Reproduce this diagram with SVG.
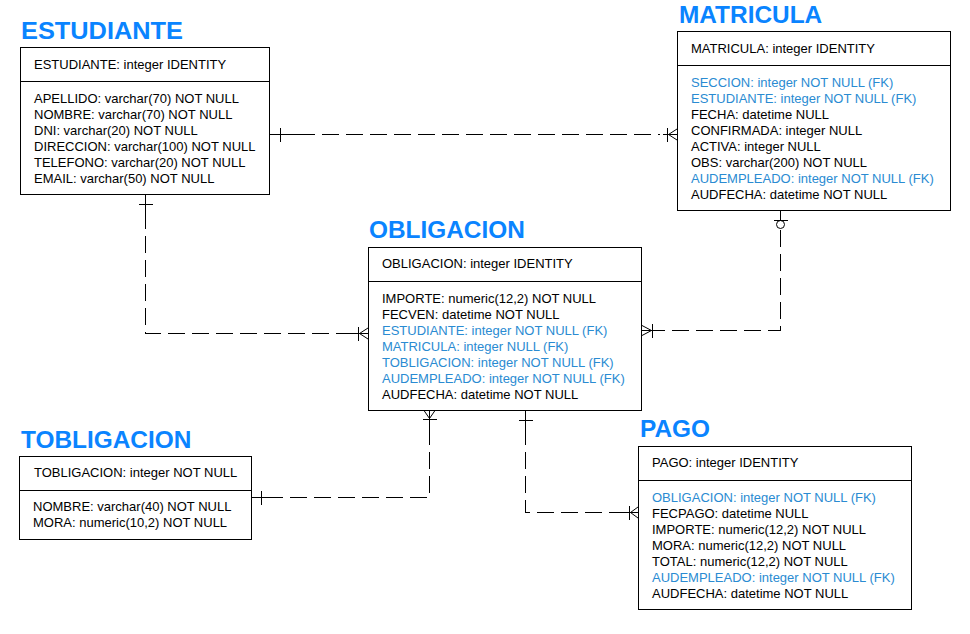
<svg xmlns="http://www.w3.org/2000/svg" width="970" height="634" viewBox="0 0 970 634">
<style>
  .box { fill: #ffffff; stroke: #000000; stroke-width: 1; shape-rendering: crispEdges; }
  .div { stroke: #000000; stroke-width: 1; shape-rendering: crispEdges; }
  .title { font-family: 'Liberation Sans', Arial, sans-serif; font-size: 24.4px; font-weight: bold; fill: #0a84ff; }
  .t { font-family: 'Liberation Sans', Arial, sans-serif; font-size: 13px; fill: #000000; }
  .fk { fill: #2a8bd2; }
  .dash { fill: none; stroke: #000000; stroke-width: 1; stroke-dasharray: 17 7; shape-rendering: crispEdges; }
  .solid { fill: none; stroke: #000000; stroke-width: 1; }
</style>
<rect width="970" height="634" fill="#ffffff"/>

<g id="connectors">
  <!-- ESTUDIANTE - MATRICULA -->
  <g id="c-est-mat">
    <path class="dash" d="M298,134.5 H660"/>
    <path class="solid" d="M269.5,134.5 H298 M663,134.5 H677.5" shape-rendering="crispEdges"/>
    <path class="solid" d="M280.5,127.5 V141.5 M667.5,127.5 V141.5" shape-rendering="crispEdges"/>
    <path class="solid" d="M677,129 L668.5,134.5 L677,140"/>
  </g>
  <!-- ESTUDIANTE - OBLIGACION -->
  <g id="c-est-obl">
    <path class="dash" d="M145.5,212 V333.5 H352"/>
    <path class="solid" d="M145.5,194.5 V212 M352,333.5 H368.5" shape-rendering="crispEdges"/>
    <path class="solid" d="M138.5,204.5 H152.5 M358.5,326.5 V340.5" shape-rendering="crispEdges"/>
    <path class="solid" d="M368,328 L359.5,333.5 L368,339"/>
  </g>
  <!-- MATRICULA - OBLIGACION -->
  <g id="c-mat-obl">
    <path class="dash" d="M780.5,230 V330.5 H657"/>
    <path class="solid" d="M780.5,210.5 V220.5 M657,330.5 H641.5" shape-rendering="crispEdges"/>
    <path class="solid" d="M773.5,220.5 H787.5 M652.5,323.5 V337.5" shape-rendering="crispEdges"/>
    <circle class="solid" cx="780.5" cy="224.5" r="4"/>
    <path class="solid" d="M642,325.5 L651.5,330.5 L642,335.5"/>
  </g>
  <!-- OBLIGACION - TOBLIGACION -->
  <g id="c-obl-tob">
    <path class="dash" d="M429.5,428 V497.5 H270"/>
    <path class="solid" d="M429.5,410.5 V428 M270,497.5 H251.5" shape-rendering="crispEdges"/>
    <path class="solid" d="M422.5,419.5 H436.5 M261.5,490.5 V504.5" shape-rendering="crispEdges"/>
    <path class="solid" d="M424,410.5 L429.5,418.5 L435,410.5"/>
  </g>
  <!-- OBLIGACION - PAGO -->
  <g id="c-obl-pago">
    <path class="dash" d="M525.5,428 V512.5 H622"/>
    <path class="solid" d="M525.5,410.5 V428 M622,512.5 H638.5" shape-rendering="crispEdges"/>
    <path class="solid" d="M518.5,420.5 H532.5 M629.5,505.5 V519.5" shape-rendering="crispEdges"/>
    <path class="solid" d="M638,507 L630.5,512.5 L638,518"/>
  </g>
</g>

<g id="ESTUDIANTE">
  <text class="title" x="21" y="39" textLength="162" lengthAdjust="spacingAndGlyphs">ESTUDIANTE</text>
  <rect class="box" x="20.5" y="47.5" width="249" height="147"/>
  <line class="div" x1="20.5" y1="81.5" x2="269.5" y2="81.5"/>
  <text class="t" x="34" y="69">ESTUDIANTE: integer IDENTITY</text>
  <text class="t" x="34" y="103.3">APELLIDO: varchar(70) NOT NULL</text>
  <text class="t" x="34" y="119.3">NOMBRE: varchar(70) NOT NULL</text>
  <text class="t" x="34" y="135.3">DNI: varchar(20) NOT NULL</text>
  <text class="t" x="34" y="151.3">DIRECCION: varchar(100) NOT NULL</text>
  <text class="t" x="34" y="167.3">TELEFONO: varchar(20) NOT NULL</text>
  <text class="t" x="34" y="183.3">EMAIL: varchar(50) NOT NULL</text>
</g>

<g id="MATRICULA">
  <text class="title" x="679" y="22.7">MATRICULA</text>
  <rect class="box" x="677.5" y="31.5" width="273" height="179"/>
  <line class="div" x1="677.5" y1="65.5" x2="950.5" y2="65.5"/>
  <text class="t" x="691" y="53.3">MATRICULA: integer IDENTITY</text>
  <text class="t fk" x="691" y="87.3">SECCION: integer NOT NULL (FK)</text>
  <text class="t fk" x="691" y="103.3">ESTUDIANTE: integer NOT NULL (FK)</text>
  <text class="t" x="691" y="119.3">FECHA: datetime NULL</text>
  <text class="t" x="691" y="135.3">CONFIRMADA: integer NULL</text>
  <text class="t" x="691" y="151.3">ACTIVA: integer NULL</text>
  <text class="t" x="691" y="167.3">OBS: varchar(200) NOT NULL</text>
  <text class="t fk" x="691" y="183.3">AUDEMPLEADO: integer NOT NULL (FK)</text>
  <text class="t" x="691" y="199.3">AUDFECHA: datetime NOT NULL</text>
</g>

<g id="OBLIGACION">
  <text class="title" x="369" y="238.3">OBLIGACION</text>
  <rect class="box" x="368.5" y="247.5" width="273" height="163"/>
  <line class="div" x1="368.5" y1="281.5" x2="641.5" y2="281.5"/>
  <text class="t" x="382" y="268.3">OBLIGACION: integer IDENTITY</text>
  <text class="t" x="382" y="302.7">IMPORTE: numeric(12,2) NOT NULL</text>
  <text class="t" x="382" y="318.7">FECVEN: datetime NOT NULL</text>
  <text class="t fk" x="382" y="334.7">ESTUDIANTE: integer NOT NULL (FK)</text>
  <text class="t fk" x="382" y="350.7">MATRICULA: integer NULL (FK)</text>
  <text class="t fk" x="382" y="366.7">TOBLIGACION: integer NOT NULL (FK)</text>
  <text class="t fk" x="382" y="382.7">AUDEMPLEADO: integer NOT NULL (FK)</text>
  <text class="t" x="382" y="398.7">AUDFECHA: datetime NOT NULL</text>
</g>

<g id="TOBLIGACION">
  <text class="title" x="21" y="447.7">TOBLIGACION</text>
  <rect class="box" x="19.5" y="456.5" width="232" height="83"/>
  <line class="div" x1="19.5" y1="490.5" x2="251.5" y2="490.5"/>
  <text class="t" x="34" y="477.3">TOBLIGACION: integer NOT NULL</text>
  <text class="t" x="33" y="511.3">NOMBRE: varchar(40) NOT NULL</text>
  <text class="t" x="33" y="527.3">MORA: numeric(10,2) NOT NULL</text>
</g>

<g id="PAGO">
  <text class="title" x="640" y="437.3">PAGO</text>
  <rect class="box" x="638.5" y="446.5" width="273" height="163"/>
  <line class="div" x1="638.5" y1="480.5" x2="911.5" y2="480.5"/>
  <text class="t" x="652" y="466.7">PAGO: integer IDENTITY</text>
  <text class="t fk" x="652" y="502">OBLIGACION: integer NOT NULL (FK)</text>
  <text class="t" x="652" y="518">FECPAGO: datetime NULL</text>
  <text class="t" x="652" y="534">IMPORTE: numeric(12,2) NOT NULL</text>
  <text class="t" x="652" y="550">MORA: numeric(12,2) NOT NULL</text>
  <text class="t" x="652" y="566">TOTAL: numeric(12,2) NOT NULL</text>
  <text class="t fk" x="652" y="582">AUDEMPLEADO: integer NOT NULL (FK)</text>
  <text class="t" x="652" y="598">AUDFECHA: datetime NOT NULL</text>
</g>
</svg>
